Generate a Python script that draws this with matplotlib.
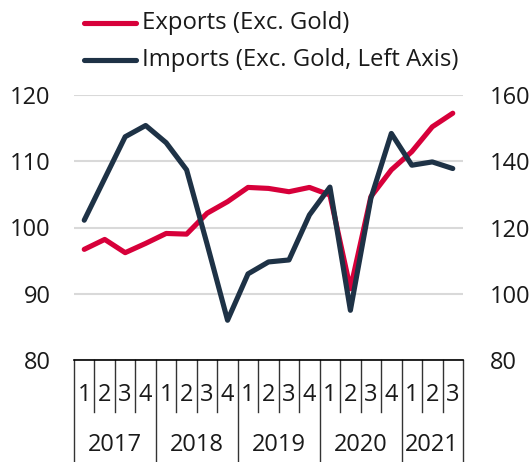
import matplotlib
matplotlib.use("Agg")
import matplotlib.pyplot as plt
from matplotlib.lines import Line2D
import matplotlib.transforms as mtransforms

plt.rcParams['font.family'] = ['Open Sans', 'DejaVu Sans']

years = ["2017", "2018", "2019", "2020", "2021"]
quarters = ["1", "2", "3", "4", "1", "2", "3", "4", "1", "2", "3", "4",
            "1", "2", "3", "4", "1", "2", "3"]
quarters_per_year = [4, 4, 4, 4, 3]

exports = [113.4, 116.4, 112.4, 115.2, 118.2, 118.0, 124.3, 127.8, 132.1, 131.8,
           130.8, 132.1, 129.8, 101.5, 129.3, 137.4, 142.9, 150.4, 154.5]
imports = [101.1, 107.4, 113.7, 115.4, 112.8, 108.7, 97.5, 86.0, 93.0, 94.8,
           95.1, 101.9, 106.1, 87.5, 104.4, 114.2, 109.4, 109.9, 108.9]

left_ticks = [80, 90, 100, 110, 120]
right_ticks = [80, 100, 120, 140, 160]

RED = "#D7003A"
NAVY = "#1E3246"
GRID = "#D9D9D9"

fig = plt.figure(figsize=(5.31, 4.62), dpi=100)
ax = fig.add_axes([74/531, 102/462, 389/531, 265/462])
ax2 = ax.twinx()
ax.set_zorder(ax2.get_zorder() + 1)
ax.patch.set_visible(False)

n = len(quarters)
x = list(range(n))

ax2.plot(x, exports, color=RED, lw=3.7, solid_capstyle='round', solid_joinstyle='round', zorder=3)
ax.plot(x, imports, color=NAVY, lw=3.7, solid_capstyle='round', solid_joinstyle='round', zorder=3)

ax.set_xlim(-0.5, n - 0.5)
ax.set_ylim(80, 120)
ax2.set_ylim(80, 160)
ax.set_yticks(left_ticks)
ax2.set_yticks(right_ticks)
ax.set_yticklabels([str(t) for t in left_ticks])
ax2.set_yticklabels([str(t) for t in right_ticks])
ax.tick_params(axis='y', length=0, pad=17, labelsize=17, labelcolor='#1a1a1a')
ax2.tick_params(axis='y', length=0, pad=19, labelsize=17, labelcolor='#1a1a1a')

ax.set_xticks([])
ax2.set_xticks([b - 0.5 for b in range(n + 1)], minor=True)
ax2.set_xticks([])
ax2.grid(True, which='minor', axis='x', color=GRID, lw=1.5)
ax2.grid(True, which='major', axis='y', color=GRID, lw=1.5)
ax2.set_axisbelow(True)

for a in (ax, ax2):
    for s in ('top', 'left', 'right'):
        a.spines[s].set_visible(False)
ax2.spines['bottom'].set_visible(False)
ax.spines['bottom'].set_color('#000000')
ax.spines['bottom'].set_linewidth(1.2)

trans = mtransforms.blended_transform_factory(ax.transData, ax.transAxes)
q_bottom = (360 - 411.7) / 265
y_bottom = (360 - 462) / 265

# quarter labels
for i, q in enumerate(quarters):
    ax.text(i, (360 - 395) / 265, q, transform=trans, ha='center', va='center',
            fontsize=17, color='#1a1a1a')

# separators
year_bounds = [0]
for c in quarters_per_year:
    year_bounds.append(year_bounds[-1] + c)
for b in range(n + 1):
    xb = b - 0.5
    yb = y_bottom if b in year_bounds else q_bottom
    ax.add_line(Line2D([xb, xb], [0, yb], transform=trans, color='#333333',
                       lw=1.0, clip_on=False))

# year labels
for k, yr in enumerate(years):
    center = (year_bounds[k] + year_bounds[k + 1] - 1) / 2
    ax.text(center, (360 - 445) / 265, yr, transform=trans, ha='center',
            va='center', fontsize=17, color='#1a1a1a')

# legend
for yy, col, lab in [(1 - 23/462, RED, "Exports (Exc. Gold)"),
                     (1 - 60/462, NAVY, "Imports (Exc. Gold, Left Axis)")]:
    fig.add_artist(Line2D([84/531, 136/531], [yy, yy], color=col, lw=3.7,
                          solid_capstyle='round', transform=fig.transFigure))
    fig.text(142/531, yy, lab, ha='left', va='center', fontsize=17.2, color='#1a1a1a')

fig.savefig("out.png", dpi=100)
